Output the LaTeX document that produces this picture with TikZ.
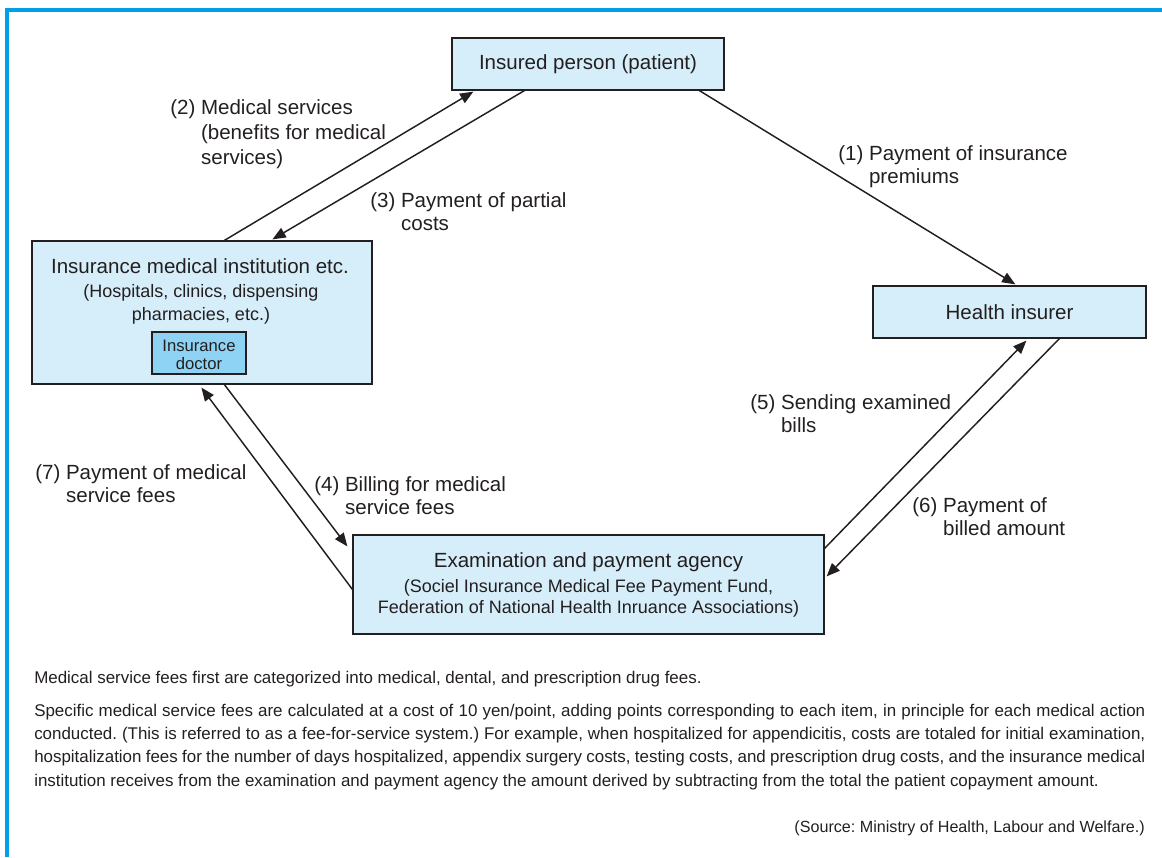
\documentclass[tikz,border=0pt]{standalone}
\usepackage{fontspec}
\setmainfont{Liberation Sans}
\usetikzlibrary{arrows.meta,calc}
\definecolor{frameblue}{HTML}{00A0E9}
\definecolor{boxfill}{HTML}{D6EEFA}
\definecolor{docfill}{HTML}{8ED3F4}
\definecolor{ink}{HTML}{231F20}
\newcommand{\fbig}{\fontsize{15.4}{17.3}\selectfont}
\newcommand{\fmid}{\fontsize{13.5}{17.3}\selectfont}
\newcommand{\fsmall}{\fontsize{12.5}{13.5}\selectfont}
\newcommand{\fnote}{\fontsize{12.7}{17.6}\selectfont}
\newcommand{\fsrc}{\fontsize{12.1}{14}\selectfont}
\newcommand{\jline}[1]{\makebox[833.25pt][s]{#1}}
\frenchspacing
\begin{document}
\begin{tikzpicture}[x=0.75pt,y=-0.75pt,
  every node/.style={text=ink},
  box/.style={draw=ink,fill=boxfill,line width=0.9pt,inner sep=0pt,rectangle},
  arr/.style={draw=ink,line width=1.1pt,-{Triangle[length=10pt,width=8pt]}},
  lbl/.style={anchor=base west,inner sep=0pt,font=\fbig},
  txt/.style={anchor=base,inner sep=0pt},
  note/.style={anchor=base west,inner sep=0pt,font=\fnote}]
\useasboundingbox (0,0) rectangle (1162,857);
\draw[frameblue,line width=2.4pt] (7,857) -- (7,10) -- (1162,10);

% boxes
\node[box,minimum width=204pt,minimum height=39pt,font=\fbig] (ins) at (588,64) {Insured person (patient)};
\node[box,minimum width=204.75pt,minimum height=39pt,font=\fbig] (hi) at (1009.5,312) {Health insurer};
\node[box,minimum width=255pt,minimum height=107.25pt] (inst) at (202,312.5) {};
\node[txt,font=\fbig] (instT) at (200,273) {Insurance medical institution etc.};
\node[txt,font=\fmid] (instS1) at (201,297) {(Hospitals, clinics, dispensing};
\node[txt,font=\fmid] (instS2) at (201,320) {pharmacies, etc.)};
\node[box,fill=docfill,minimum width=70.5pt,minimum height=31.5pt] (doc) at (199,353) {};
\node[txt,font=\fsmall] (docT1) at (199,351) {Insurance};
\node[txt,font=\fsmall] (docT2) at (199,369) {doctor};
\node[box,minimum width=353.25pt,minimum height=74.25pt] (exam) at (588.5,584.5) {};
\node[txt,font=\fbig] (examT) at (588.5,567) {Examination and payment agency};
\node[txt,font=\fmid] (examS1) at (588.5,592) {(Sociel Insurance Medical Fee Payment Fund,};
\node[txt,font=\fmid] (examS2) at (588.5,613) {Federation of National Health Inruance Associations)};

% connectors
\draw[arr] ($(inst.north west)+(193,0)$) -- ($(ins.south west)+(22,1)$);
\draw[arr] ($(ins.south west)+(73,0)$) -- ($(inst.north west)+(241,-1)$);
\draw[arr] ($(ins.south west)+(248,0)$) -- ($(hi.north west)+(143,-1)$);
\draw[arr] ($(exam.north east)+(-1,15)$) -- ($(hi.south west)+(154,2)$);
\draw[arr] ($(hi.south west)+(187,0)$) -- ($(exam.north east)+(2,42)$);
\draw[arr] ($(inst.south west)+(193,0)$) -- ($(exam.north west)+(-5,12)$);
\draw[arr] ($(exam.north west)+(0,55)$) -- ($(inst.south west)+(170,3)$);

% connector labels
\node[lbl] (l2) at (170,114) {\begin{tabular}[t]{@{}l@{\ }l@{}}(2)&Medical services\\[1.5pt]&(benefits for medical\\[1.5pt]&services)\end{tabular}};
\node[lbl] (l3) at (370,207) {\begin{tabular}[t]{@{}l@{\ }l@{}}(3)&Payment of partial\\&costs\end{tabular}};
\node[lbl] (l1) at (838,160) {\begin{tabular}[t]{@{}l@{\ }l@{}}(1)&Payment of insurance\\&premiums\end{tabular}};
\node[lbl] (l5) at (750,409) {\begin{tabular}[t]{@{}l@{\ }l@{}}(5)&Sending examined\\&bills\end{tabular}};
\node[lbl] (l6) at (912,512) {\begin{tabular}[t]{@{}l@{\ }l@{}}(6)&Payment of\\&billed amount\end{tabular}};
\node[lbl] (l7) at (35,479) {\begin{tabular}[t]{@{}l@{\ }l@{}}(7)&Payment of medical\\&service fees\end{tabular}};
\node[lbl] (l4) at (314,491) {\begin{tabular}[t]{@{}l@{\ }l@{}}(4)&Billing for medical\\&service fees\end{tabular}};

% notes
\node[note] (n1) at (34,683) {Medical service fees first are categorized into medical, dental, and prescription drug fees.};
\node[note] (n2) at (34,716) {\begin{tabular}[t]{@{}l@{}}\jline{Specific medical service fees are calculated at a cost of 10 yen/point, adding points corresponding to each item, in principle for each medical action}\\
\jline{conducted. (This is referred to as a fee-for-service system.) For example, when hospitalized for appendicitis, costs are totaled for initial examination,}\\
\jline{hospitalization fees for the number of days hospitalized, appendix surgery costs, testing costs, and prescription drug costs, and the insurance medical}\\
institution receives from the examination and payment agency the amount derived by subtracting from the total the patient copayment amount.\end{tabular}};
\node[anchor=base east,inner sep=0pt,font=\fsrc] (src) at (1145,832) {(Source: Ministry of Health, Labour and Welfare.)};
\end{tikzpicture}
\end{document}
